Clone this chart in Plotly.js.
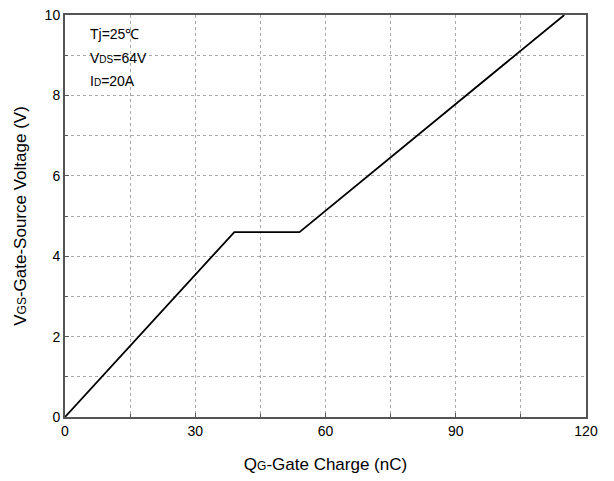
<!DOCTYPE html>
<html><head><meta charset="utf-8">
<script src="https://cdn.plot.ly/plotly-3.0.1.min.js"></script>
<style>body{margin:0;background:#fff}#c{width:614px;height:481px}</style>
</head><body><div id="c"></div>
<script>
const qg = [0, 39, 54, 115];
const vgs = [0, 4.6, 4.6, 10];
const xTicks = [0, 30, 60, 90, 120];
const yTicks = [0, 2, 4, 6, 8, 10];
const sm = s => '<span style="font-size:10px">' + s + '</span>';
const notes = ["Tj=25℃", "V" + sm("DS") + "=64V", "I" + sm("D") + "=20A"];

const font = {family: "Liberation Sans, Arial, sans-serif", color: "#000"};
const grid = {gridcolor: "#aaa", griddash: "dot", gridwidth: 1};
const layout = {
  width: 614, height: 481,
  margin: {l: 65, r: 28, t: 15, b: 64},
  paper_bgcolor: "#fff", plot_bgcolor: "#fff",
  showlegend: false,
  font: Object.assign({size: 14}, font),
  xaxis: Object.assign({
    range: [0, 120], tickvals: xTicks, ticktext: xTicks.map(String),
    showgrid: true,
    minor: Object.assign({dtick: 15, showgrid: true, ticks: "inside", ticklen: 3, tickcolor: "#555"}, grid),
    ticks: "inside", ticklen: 4, tickcolor: "#555",
    showline: true, linecolor: "#555", linewidth: 2, mirror: true,
    zeroline: false,
    tickfont: {size: 14},
    title: {text: "Q" + '<span style="font-size:12px">G</span>' + "-Gate Charge (nC)", font: {size: 17}, standoff: 20}
  }, grid),
  yaxis: Object.assign({
    range: [0, 10], tickvals: yTicks, ticktext: yTicks.map(String),
    showgrid: true,
    minor: Object.assign({dtick: 1, showgrid: true, ticks: "inside", ticklen: 3, tickcolor: "#555"}, grid),
    ticks: "inside", ticklen: 4, tickcolor: "#555",
    showline: true, linecolor: "#555", linewidth: 2, mirror: true,
    zeroline: false,
    tickfont: {size: 14},
    title: {text: "V" + '<span style="font-size:12px">GS</span>' + "-Gate-Source Voltage (V)", font: {size: 17}, standoff: 14}
  }, grid),
  annotations: notes.map((t, i) => ({
    xref: "paper", yref: "paper", x: 0.045, y: 0.952 - i * 0.058,
    xanchor: "left", yanchor: "middle", showarrow: false,
    text: t, font: {size: 14, color: "#000"}
  }))
};
Plotly.newPlot("c", [{
  x: qg, y: vgs, type: "scatter", mode: "lines",
  line: {color: "#000", width: 1.8}, cliponaxis: false
}], layout, {displayModeBar: false, staticPlot: true});
</script></body></html>
